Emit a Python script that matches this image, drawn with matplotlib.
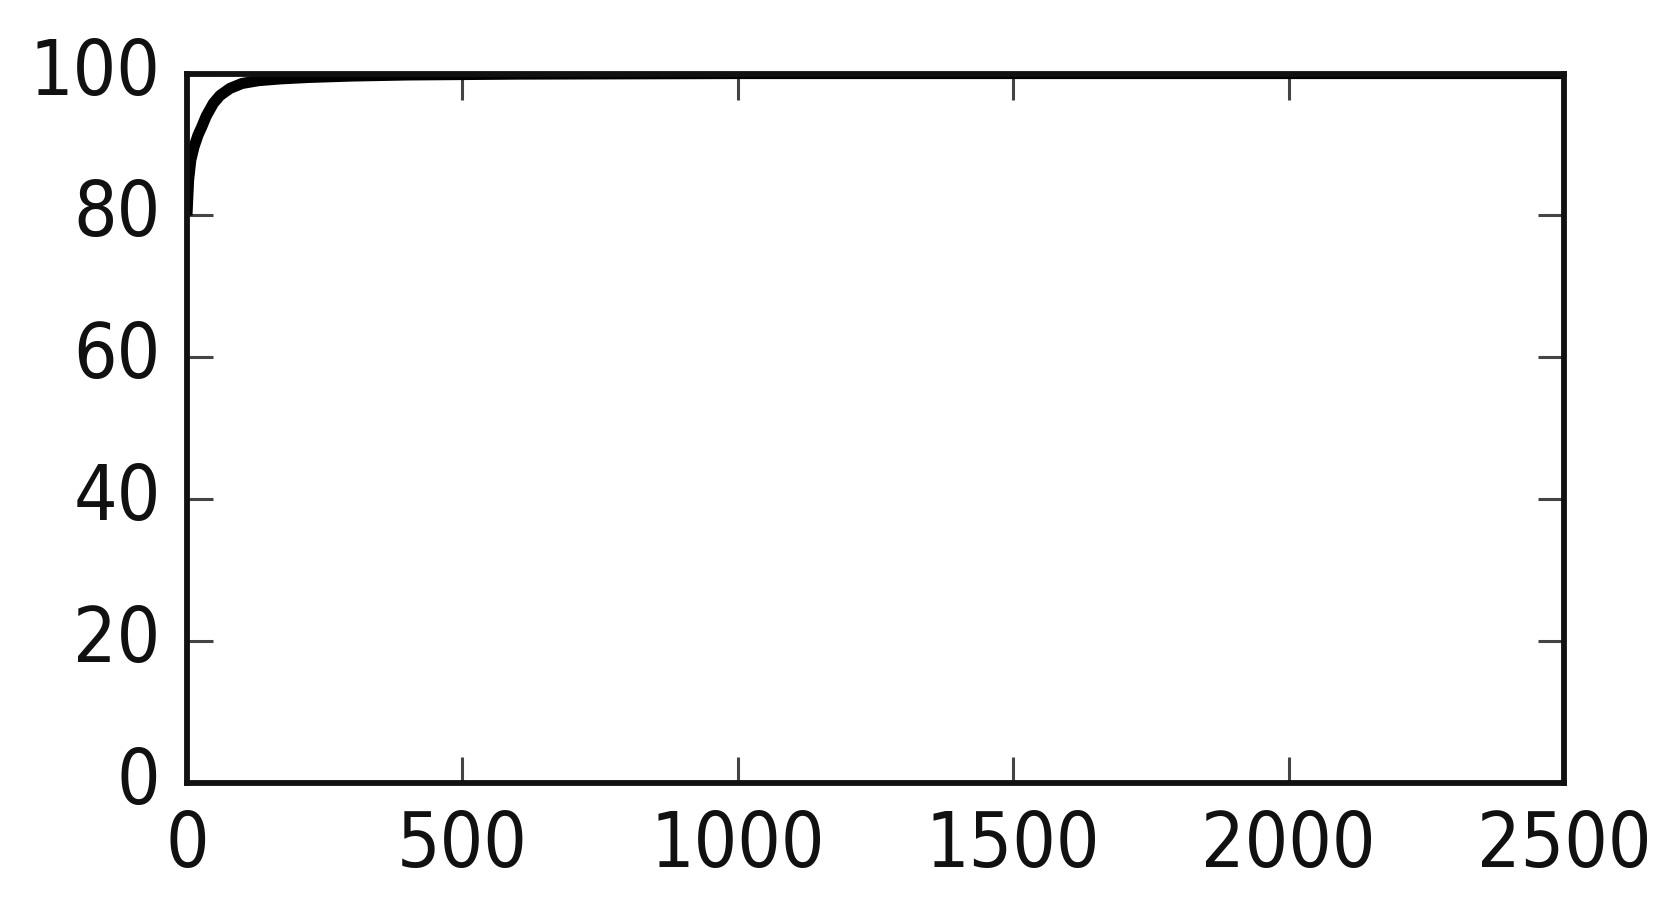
import matplotlib
matplotlib.use('Agg')
import matplotlib.pyplot as plt

# cumulative percentage
rank = [0, 3, 7, 13, 20, 27, 35, 48, 60, 78, 100, 130, 170, 220, 300, 400, 600, 1000, 1500, 2000, 2500]
cum_pct = [80, 85, 87.8, 89.7, 91.3, 92.5, 94, 95.8, 96.9, 97.9, 98.6, 99.0, 99.25, 99.45,
           99.65, 99.8, 99.92, 100, 100, 100, 100]

xticks = [0, 500, 1000, 1500, 2000, 2500]
yticks = [0, 20, 40, 60, 80, 100]

fig = plt.figure(figsize=(16.72, 8.99), dpi=100)
ax = fig.add_axes([0.1118, 0.129, 0.8236, 0.7892])

ax.plot(rank, cum_pct, color='black', linewidth=8, solid_capstyle='butt')

ax.set_xlim(0, 2500)
ax.set_ylim(0, 100)
ax.set_xticks(xticks)
ax.set_yticks(yticks)

for s in ax.spines.values():
    s.set_linewidth(4.2)
    s.set_color('#111111')

ax.tick_params(direction='in', length=19, width=2.2, color='#444444',
               top=True, right=True, labelsize=55, pad=19, labelcolor='#111111')
for lab in ax.get_yticklabels():
    lab.set_verticalalignment('center')
for lab in ax.get_xticklabels() + ax.get_yticklabels():
    lab.set_fontstretch('condensed')

fig.savefig('out.png', dpi=100, facecolor='white')
